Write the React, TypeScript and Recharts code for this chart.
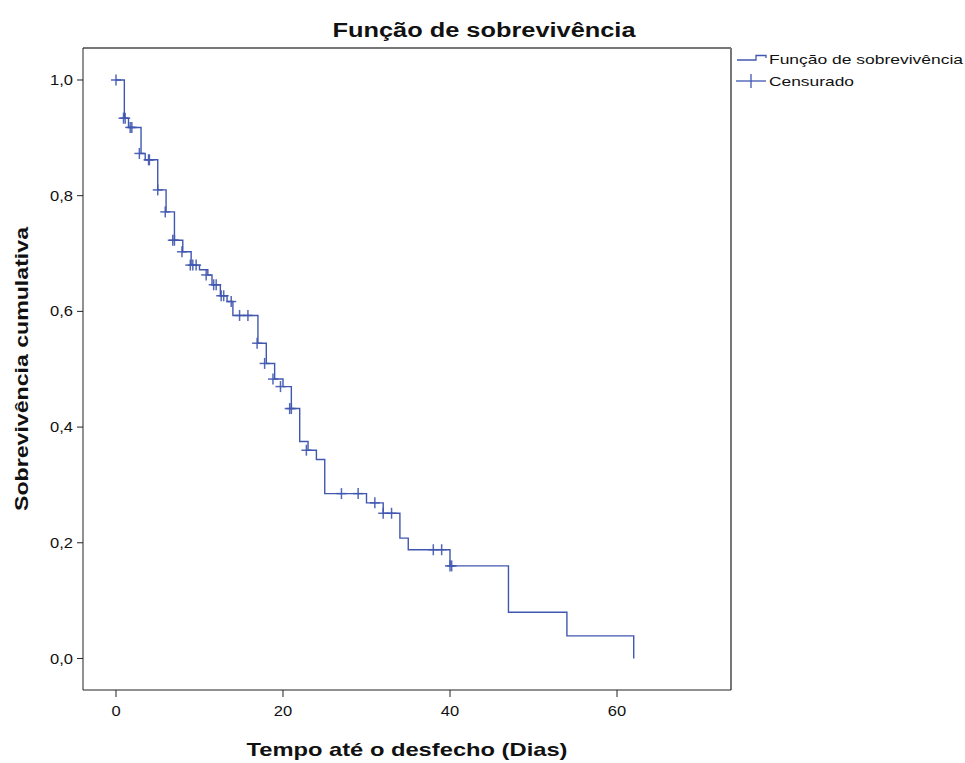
import React from "react";
import {
  ComposedChart,
  Line,
  Scatter,
  XAxis,
  YAxis,
  ReferenceLine,
} from "recharts";

// Kaplan-Meier step curve (time in days, cumulative survival)
const survTimes = [0, 1, 1.5, 3, 3.5, 5, 6, 7, 8, 9, 10, 11, 11.5, 12.5, 13.3, 14, 17, 18, 19, 20, 21, 22, 23, 24, 25, 30, 32, 34, 35, 40, 47, 54, 62];
const survProb = [1, 0.934, 0.918, 0.873, 0.862, 0.81, 0.772, 0.723, 0.703, 0.68, 0.672, 0.663, 0.646, 0.627, 0.617, 0.593, 0.545, 0.51, 0.483, 0.47, 0.432, 0.375, 0.36, 0.344, 0.285, 0.269, 0.251, 0.208, 0.188, 0.16, 0.08, 0.039, 0];

// Censored observations
const censorTimes = [0, 0.9, 1.1, 1.7, 1.9, 2.8, 3.9, 4.0, 5.0, 5.9, 6.8, 7.0, 7.9, 8.9, 9.2, 9.6, 10.8, 11.7, 12.0, 12.6, 12.9, 13.8, 14.8, 15.8, 16.9, 17.8, 18.8, 19.7, 20.8, 21.0, 22.8, 27, 29, 31, 32, 33, 38, 39, 40, 40.2];
const censorProb = [1, 0.934, 0.934, 0.918, 0.918, 0.873, 0.862, 0.862, 0.81, 0.772, 0.723, 0.723, 0.703, 0.68, 0.68, 0.68, 0.663, 0.646, 0.646, 0.627, 0.627, 0.617, 0.593, 0.593, 0.545, 0.51, 0.483, 0.47, 0.432, 0.432, 0.36, 0.285, 0.285, 0.269, 0.251, 0.251, 0.188, 0.188, 0.16, 0.16];

const xTicks = [0, 20, 40, 60];
const yTicks = [0, 0.2, 0.4, 0.6, 0.8, 1.0];

const X_DOMAIN: [number, number] = [-3.95, 73.65];
const Y_DOMAIN: [number, number] = [-0.0545, 1.0553];

const BLUE = "#4057b0";
const FONT = "'Liberation Sans', Arial, sans-serif";
const STRETCH = 1.18;

const survData = survTimes.map((t, i) => ({ t, s: survProb[i] }));
const censorData = censorTimes.map((t, i) => ({ t, s: censorProb[i] }));

const CensorMark = (props: any) => {
  const { cx, cy } = props;
  if (cx == null || cy == null) return null;
  return (
    <g stroke={BLUE} strokeWidth={1.5} strokeOpacity={0.9}>
      <line x1={cx - 5} y1={cy} x2={cx + 5} y2={cy} />
      <line x1={cx} y1={cy - 5.5} x2={cx} y2={cy + 5.5} />
    </g>
  );
};

const YTick = (props: any) => {
  const { x, y, payload } = props;
  const label = payload.value.toFixed(1).replace(".", ",");
  return (
    <g transform={`translate(${x},${y})`}>
      <text
        transform={`scale(${STRETCH},1)`}
        textAnchor="end"
        dy="0.36em"
        fontFamily={FONT}
        fontSize={14}
        fill="#111"
      >
        {label}
      </text>
    </g>
  );
};

const XTick = (props: any) => {
  const { x, y, payload } = props;
  return (
    <g transform={`translate(${x},${y})`}>
      <text
        transform={`scale(${STRETCH},1)`}
        textAnchor="middle"
        dy="0.71em"
        fontFamily={FONT}
        fontSize={14}
        fill="#111"
      >
        {String(payload.value)}
      </text>
    </g>
  );
};

const XLabel = (props: any) => {
  const vb = props.viewBox || {};
  const cx = vb.x + vb.width / 2;
  return (
    <text
      x={cx}
      y={vb.y + 66}
      textAnchor="middle"
      fontFamily={FONT}
      fontWeight="bold"
      fontSize={19}
      fill="#111"
      textLength={321}
      lengthAdjust="spacingAndGlyphs"
    >
      Tempo até o desfecho (Dias)
    </text>
  );
};

const YLabel = (props: any) => {
  const vb = props.viewBox || {};
  const cx = vb.x + 21;
  const cy = vb.y + vb.height / 2;
  return (
    <text
      x={cx}
      y={cy}
      transform={`rotate(-90, ${cx}, ${cy})`}
      textAnchor="middle"
      dominantBaseline="central"
      fontFamily={FONT}
      fontWeight="bold"
      fontSize={19}
      fill="#111"
      textLength={284}
      lengthAdjust="spacingAndGlyphs"
    >
      Sobrevivência cumulativa
    </text>
  );
};

export default function App() {
  return (
    <div style={{ position: "absolute", left: 0, top: 0, width: 965, height: 763, background: "#fff" }}>
      <ComposedChart
        width={965}
        height={763}
        margin={{ top: 48, right: 234, bottom: 0, left: 0 }}
      >
        <XAxis
          dataKey="t"
          type="number"
          domain={X_DOMAIN}
          ticks={xTicks}
          allowDataOverflow
          height={73}
          tickSize={7}
          tickMargin={9}
          tick={<XTick />}
          stroke="#222"
          label={<XLabel />}
        />
        <YAxis
          type="number"
          domain={Y_DOMAIN}
          ticks={yTicks}
          allowDataOverflow
          width={83}
          tickSize={6}
          tickMargin={4}
          tick={<YTick />}
          stroke="#222"
          label={<YLabel />}
        />
        <ReferenceLine y={Y_DOMAIN[1]} stroke="#777" strokeWidth={2} ifOverflow="extendDomain" />
        <ReferenceLine x={X_DOMAIN[1]} stroke="#777" strokeWidth={2} ifOverflow="extendDomain" />
        <Line
          data={survData}
          dataKey="s"
          type="stepAfter"
          stroke={BLUE}
          strokeWidth={1.4}
          dot={false}
          activeDot={false}
          isAnimationActive={false}
          legendType="none"
        />
        <Scatter
          data={censorData}
          dataKey="s"
          shape={<CensorMark />}
          isAnimationActive={false}
          legendType="none"
        />
      </ComposedChart>
      <svg
        width={965}
        height={100}
        style={{ position: "absolute", left: 0, top: 0, pointerEvents: "none" }}
      >
        <text
          x={484}
          y={37}
          textAnchor="middle"
          fontFamily={FONT}
          fontWeight="bold"
          fontSize={20}
          fill="#111"
          textLength={303}
          lengthAdjust="spacingAndGlyphs"
        >
          Função de sobrevivência
        </text>
        <g transform="translate(734,48)">
          <path d="M3,12 H22 V7.5 H32 V10" fill="none" stroke={BLUE} strokeWidth={1.3} />
          <text x={35} y={16} fontFamily={FONT} fontSize={13.5} fill="#111" textLength={194} lengthAdjust="spacingAndGlyphs">
            Função de sobrevivência
          </text>
          <line x1={2} y1={33} x2={32} y2={33} stroke={BLUE} strokeWidth={1.3} />
          <line x1={17} y1={26} x2={17} y2={40} stroke={BLUE} strokeWidth={1.3} />
          <text x={35} y={38} fontFamily={FONT} fontSize={13.5} fill="#111" textLength={85} lengthAdjust="spacingAndGlyphs">
            Censurado
          </text>
        </g>
      </svg>
    </div>
  );
}
